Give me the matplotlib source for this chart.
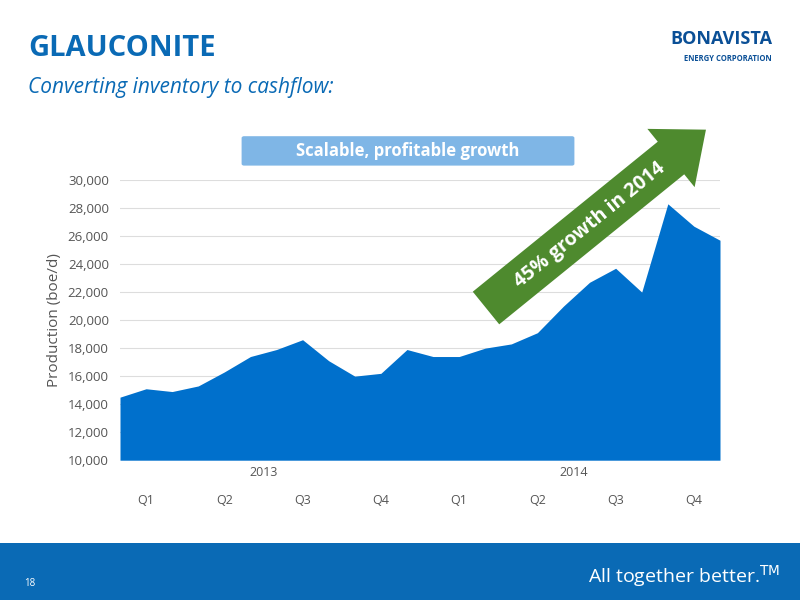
import matplotlib.pyplot as plt
import matplotlib.patches as mpatches
import numpy as np

plt.rcParams['font.family'] = ['Open Sans', 'DejaVu Sans']

production = [14500, 15100, 14900, 15300, 16300, 17400, 17900, 18600,
              17100, 16000, 16200, 17900, 17400, 17400, 18000, 18300,
              19100, 21000, 22700, 23700, 22000, 28300, 26700, 25700]
quarters = ['Q1', 'Q2', 'Q3', 'Q4', 'Q1', 'Q2', 'Q3', 'Q4']
years = ['2013', '2014']

blue = '#0070cc'
dark = '#0a6ab5'

fig = plt.figure(figsize=(8, 6), dpi=100)
ax = fig.add_axes([0.15, 0.233, 0.75, 0.467])

x = np.arange(len(production))
ax.fill_between(x, 10000, production, color=blue, lw=0)
ax.set_xlim(0, len(production) - 1)
ax.set_ylim(10000, 30000)
ax.set_yticks(np.arange(10000, 30001, 2000))
ax.set_yticklabels([f'{v:,}' for v in range(10000, 30001, 2000)], color='#555555', fontsize=9.5)
ax.yaxis.grid(True, color='#dddddd', lw=0.8)
ax.set_axisbelow(True)
ax.set_xticks([])
for s in ax.spines.values():
    s.set_visible(False)
ax.tick_params(axis='y', length=0, pad=8)
ax.set_ylabel('Production (boe/d)', fontsize=11, color='#555555')

qpos = np.arange(len(quarters)) * 3 + 1
for p, q in zip(qpos, quarters):
    ax.text(p, 7100, q, ha='center', va='center', fontsize=9, color='#555555')
for p, yr in zip([5.5, 17.4], years):
    ax.text(p, 9100, yr, ha='center', va='center', fontsize=9, color='#555555')

# titles
fig.text(0.035, 0.92, 'GLAUCONITE', fontsize=21, fontweight='bold', color=dark, va='center')
fig.text(0.035, 0.855, 'Converting inventory to cashflow:', fontsize=15, style='italic', color=dark, va='center')
fig.text(0.965, 0.935, 'BONAVISTA', fontsize=13, fontweight='bold', color='#0a4f96', ha='right', va='center')
fig.text(0.965, 0.903, 'ENERGY CORPORATION', fontsize=5.5, fontweight='bold', color='#0a4f96', ha='right', va='center')

# banner
fig.patches.append(mpatches.FancyBboxPatch((0.305, 0.727), 0.41, 0.043, boxstyle='round,pad=0.003',
                                           transform=fig.transFigure, color='#7fb6e6', lw=0))
fig.text(0.51, 0.749, 'Scalable, profitable growth', fontsize=12, fontweight='bold', color='white',
         ha='center', va='center')

# arrow (pixel coordinates so the angle is kept)
arrow = mpatches.FancyArrow(486, 600 - 308, 185, 150, width=42, head_width=75,
                            head_length=45, transform=None, color='#4e8a2e', lw=0)
fig.patches.append(arrow)
fig.text(0.737, 0.625, '45% growth in 2014', fontsize=14, fontweight='bold', color='white',
         rotation=39, ha='center', va='center')

# footer
fig.patches.append(mpatches.Rectangle((0, 0), 1, 0.095, transform=fig.transFigure, color=dark, lw=0))
fig.text(0.03, 0.028, '18', fontsize=7, color='white', va='center')
fig.text(0.975, 0.04, 'All together better.$^{\\mathrm{TM}}$', fontsize=14, color='white', ha='right', va='center')

fig.savefig('out.png', dpi=100)
